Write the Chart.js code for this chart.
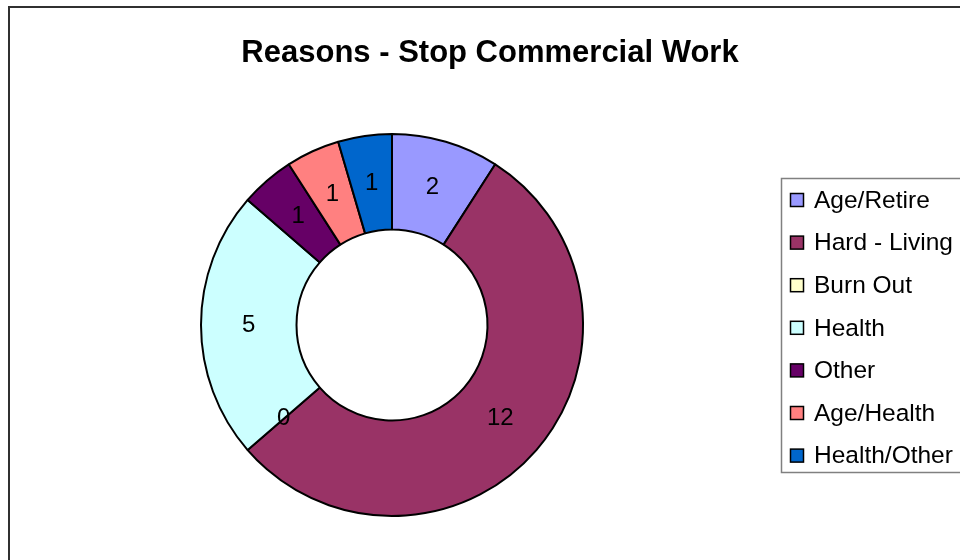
<!DOCTYPE html>
<html>
<head>
<meta charset="utf-8">
<script src="https://cdn.jsdelivr.net/npm/chart.js@4.4.1/dist/chart.umd.min.js"></script>
<style>
html, body { margin: 0; padding: 0; background: #fff; }
#wrap { width: 960px; height: 560px; position: relative; }
</style>
</head>
<body>
<div id="wrap"><canvas id="chart"></canvas></div>
<script>
// Reasons - Stop Commercial Work: doughnut in the old Excel style

const chartTitle = 'Reasons - Stop Commercial Work';
const reasons = ['Age/Retire', 'Hard - Living', 'Burn Out', 'Health', 'Other', 'Age/Health', 'Health/Other'];
const counts = [2, 12, 0, 5, 1, 1, 1];
const sliceColors = ['#9999ff', '#993366', '#ffffcc', '#ccffff', '#660066', '#ff8080', '#0066cc'];

const FONT = '"Liberation Sans", Arial, sans-serif';

// frame, title, legend box and slice values are painted by hand to get the Excel look
const excelLook = {
  id: 'excelLook',
  afterDraw(chart) {
    const ctx = chart.ctx;
    ctx.save();

    // outer frame runs off the right and bottom edges
    ctx.strokeStyle = '#303030';
    ctx.lineWidth = 2;
    ctx.strokeRect(9, 7, 1000, 1000);

    ctx.fillStyle = '#000';
    ctx.font = 'bold 31px ' + FONT;
    ctx.textAlign = 'center';
    ctx.textBaseline = 'middle';
    ctx.fillText(chartTitle, 490, 53);

    // values sit halfway across the ring, zero included
    ctx.font = '24px ' + FONT;
    chart.getDatasetMeta(0).data.forEach((arc, i) => {
      const p = arc.tooltipPosition();
      ctx.fillText(String(counts[i]), p.x, p.y);
    });

    // legend
    ctx.strokeStyle = '#808080';
    ctx.lineWidth = 1.5;
    ctx.strokeRect(781.5, 178.5, 400, 294);
    ctx.textAlign = 'left';
    ctx.font = '24.5px ' + FONT;
    reasons.forEach((r, i) => {
      const y = 200 + i * 42.6;
      ctx.fillStyle = sliceColors[i];
      ctx.fillRect(790.5, y - 6.5, 13, 13);
      ctx.strokeStyle = '#000';
      ctx.lineWidth = 1.5;
      ctx.strokeRect(790.5, y - 6.5, 13, 13);
      ctx.fillStyle = '#000';
      ctx.fillText(r, 814, y + 1);
    });

    ctx.restore();
  }
};

new Chart(document.getElementById('chart'), {
  type: 'doughnut',
  data: {
    labels: reasons,
    datasets: [{
      data: counts,
      backgroundColor: sliceColors,
      borderColor: '#000',
      borderWidth: 2
    }]
  },
  options: {
    responsive: true,
    maintainAspectRatio: false,
    animation: false,
    cutout: '50%',
    layout: { padding: { top: 133, bottom: 43, left: 0, right: 176 } },
    plugins: {
      legend: { display: false },
      title: { display: false },
      tooltip: { enabled: false }
    }
  },
  plugins: [excelLook]
});
</script>
</body>
</html>
